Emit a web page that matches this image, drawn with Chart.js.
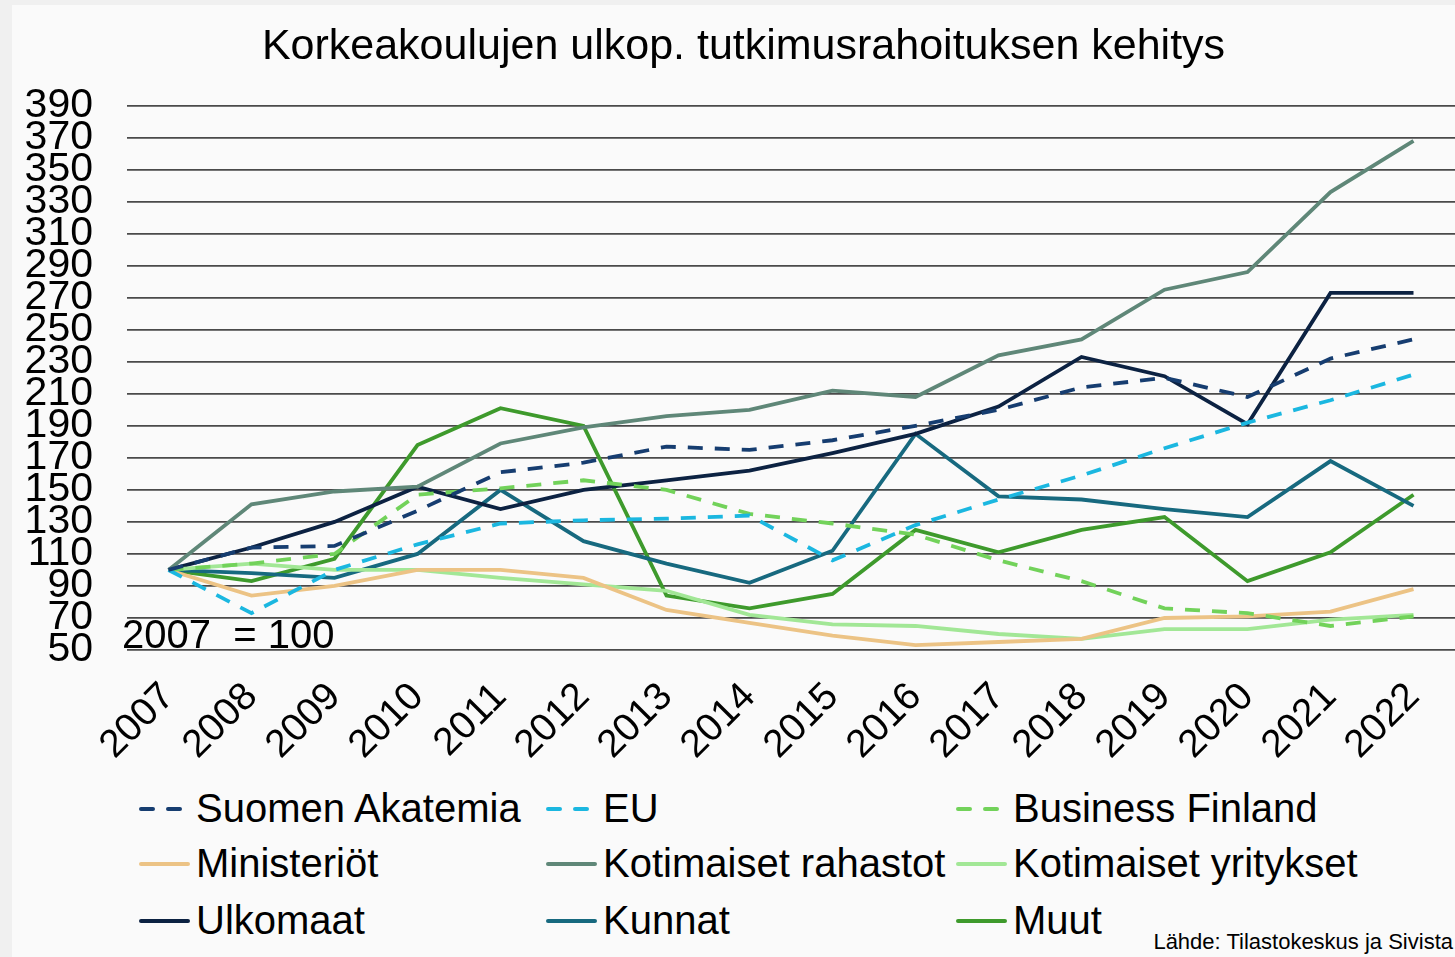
<!DOCTYPE html>
<html>
<head>
<meta charset="utf-8">
<script src="https://cdn.jsdelivr.net/npm/chart.js@4"></script>
<style>
  body { margin: 0; background: #f0f0f0; width: 1455px; height: 957px; overflow: hidden; font-family: Arial, "Liberation Sans", sans-serif; }
  #panel { position: absolute; left: 12px; top: 5px; width: 1443px; height: 952px; background: #fafafa; }
  #wrap { position: absolute; left: 0; top: 0; width: 1455px; height: 775px; }
  #legend { position: absolute; left: 0; top: 780px; width: 1455px; height: 170px; }
  .item { position: absolute; display: flex; align-items: center; font-size: 40px; color: #000; white-space: nowrap; }
  .item canvas { margin-right: 6px; }
  #source { position: absolute; right: 2px; top: 929px; font-size: 22px; color: #000; }
</style>
</head>
<body>
<div id="panel"></div>
<div id="wrap"><canvas id="lineChart"></canvas></div>
<div id="legend"></div>
<div id="source">Lähde: Tilastokeskus ja Sivista</div>
<script>
const years = ["2007", "2008", "2009", "2010", "2011", "2012", "2013", "2014", "2015", "2016", "2017", "2018", "2019", "2020", "2021", "2022"];
const suomenAkatemia = [100, 114, 115, 137, 161, 167, 177, 175, 181, 190, 200, 214, 220, 208, 232, 244];
const eu = [100, 73, 100, 116, 129, 131, 132, 134, 106, 128, 144, 159, 176, 192, 206, 222];
const businessFinland = [100, 104, 110, 147, 151, 156, 150, 135, 129, 122, 106, 93, 76, 73, 65, 71];
const ministeriot = [100, 84, 90, 100, 100, 95, 75, 67, 59, 53, 55, 57, 70, 71, 74, 88];
const kotimaisetRahastot = [100, 141, 149, 152, 179, 189, 196, 200, 212, 208, 234, 244, 275, 286, 336, 368];
const kotimaisetYritykset = [100, 104, 100, 100, 95, 91, 87, 72, 66, 65, 60, 57, 63, 63, 69, 72];
const ulkomaat = [100, 114, 130, 152, 138, 150, 156, 162, 173, 185, 202, 233, 221, 191, 273, 273];
const kunnat = [100, 98, 95, 110, 150, 118, 104, 92, 112, 185, 146, 144, 138, 133, 168, 140];
const muut = [100, 93, 107, 178, 201, 190, 84, 76, 85, 125, 111, 125, 133, 93, 111, 147];

const font = "Arial, 'Liberation Sans', sans-serif";
const dash = [15, 12];

function line(label, data, color, dashed) {
  return {
    label: label,
    data: data,
    borderColor: color,
    backgroundColor: color,
    borderWidth: 3.8,
    borderDash: dashed ? dash : [],
    pointRadius: 0,
    tension: 0,
    fill: false,
  };
}

// "2007 = 100" note sits inside the plot, bottom-left
const baseNote = {
  id: "baseNote",
  beforeDraw(chart) {
    // title in the original is centred a bit right of the canvas middle
    if (chart.titleBlock) chart.titleBlock.left = 32;
  },
  afterDatasetsDraw(chart) {
    const ctx = chart.ctx;
    const y = chart.scales.y.getPixelForValue(60);
    ctx.save();
    ctx.font = "40px " + font;
    ctx.fillStyle = "#000";
    ctx.textBaseline = "middle";
    ctx.textAlign = "left";
    ctx.fillText("2007  = 100", chart.chartArea.left - 5, y + 3);
    ctx.restore();
  },
};

const chart = new Chart(document.getElementById("lineChart"), {
  type: "line",
  data: {
    labels: years,
    datasets: [
      line("Suomen Akatemia", suomenAkatemia, "#163d70", true),
      line("EU", eu, "#1bb7e0", true),
      line("Business Finland", businessFinland, "#72d25a", true),
      line("Ministeriöt", ministeriot, "#ecc385", false),
      line("Kotimaiset rahastot", kotimaisetRahastot, "#5f8778", false),
      line("Kotimaiset yritykset", kotimaisetYritykset, "#a2e796", false),
      line("Ulkomaat", ulkomaat, "#0c2242", false),
      line("Kunnat", kunnat, "#17697f", false),
      line("Muut", muut, "#3e9a2c", false),
    ],
  },
  options: {
    responsive: true,
    maintainAspectRatio: false,
    animation: false,
    layout: { padding: { left: 0, right: 0, top: 0, bottom: 0 } },
    plugins: {
      legend: { display: false },
      tooltip: { enabled: false },
      title: {
        display: true,
        text: "Korkeakoulujen ulkop. tutkimusrahoituksen kehitys",
        color: "#000",
        font: { family: font, size: 43, weight: "normal" },
        padding: { top: 21, bottom: 33 },
      },
    },
    scales: {
      x: {
        offset: true,
        grid: { display: false, drawTicks: false },
        border: { display: false },
        ticks: {
          color: "#000",
          font: { family: font, size: 39 },
          minRotation: 45,
          maxRotation: 45,
          padding: 24,
          autoSkip: false,
        },
        afterFit(scale) {
          scale.height = 125;
          scale.paddingLeft = 0;
          scale.paddingRight = 0;
        },
      },
      y: {
        min: 50,
        max: 390,
        grid: { color: "#4a4a4a", lineWidth: 1.8, drawTicks: false },
        border: { display: false },
        ticks: {
          stepSize: 20,
          autoSkip: false,
          color: "#000",
          font: { family: font, size: 41 },
          padding: 34,
        },
        afterFit(scale) { scale.width = 127; },
      },
    },
  },
  plugins: [baseNote],
});

// legend in three columns, built from the chart datasets
const legendBox = document.getElementById("legend");
const colX = [138, 545, 955];
const rowY = [31, 86, 143];
chart.data.datasets.forEach(function (ds, i) {
  const item = document.createElement("div");
  item.className = "item";
  item.style.left = colX[i % 3] + "px";
  item.style.top = (rowY[Math.floor(i / 3)] - 25) + "px";
  const c = document.createElement("canvas");
  c.width = 52;
  c.height = 10;
  const g = c.getContext("2d");
  g.strokeStyle = ds.borderColor;
  g.lineWidth = 4;
  g.lineCap = "round";
  if (ds.borderDash.length) g.setLineDash([12, 15]);
  g.beginPath();
  g.moveTo(3, 5);
  g.lineTo(50, 5);
  g.stroke();
  const t = document.createElement("span");
  t.textContent = ds.label;
  item.appendChild(c);
  item.appendChild(t);
  legendBox.appendChild(item);
});
</script>
</body>
</html>
